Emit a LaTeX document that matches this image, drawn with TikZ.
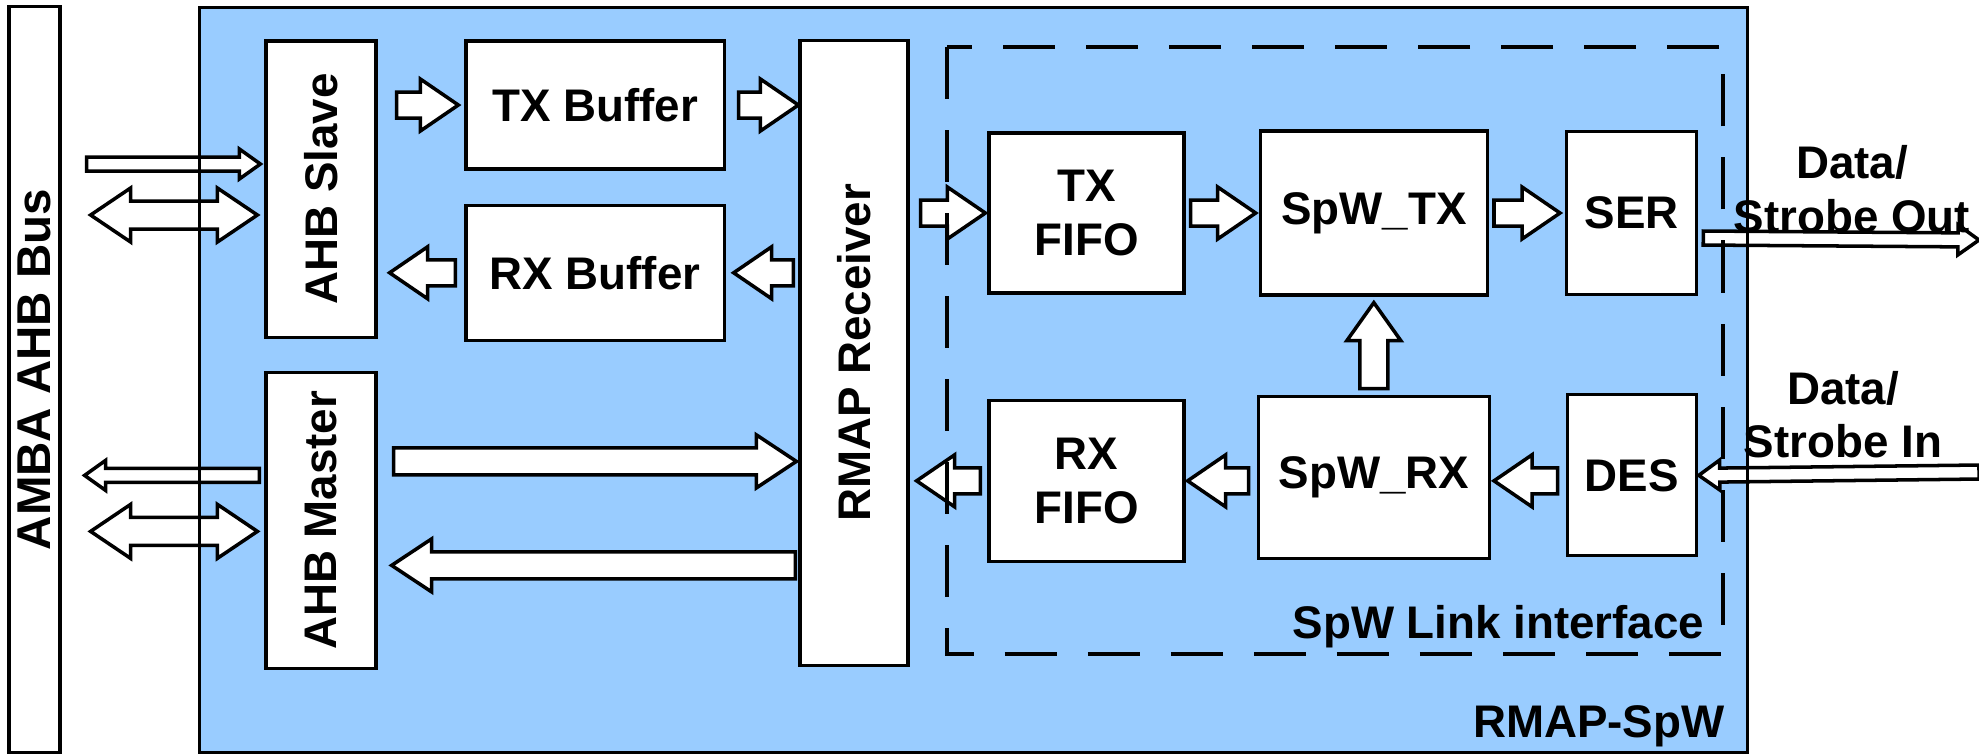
\documentclass[tikz,border=0pt]{standalone}
\usepackage{fontspec}
\setmainfont{Liberation Sans}
\usepackage{graphicx}
\usetikzlibrary{calc, positioning}

\definecolor{spwblue}{RGB}{153,204,255}

% hollow block arrow: from, to, shaft half width, head half width, head length
\newcommand{\blockarr}[5]{%
    \coordinate (ba) at (#1);
    \coordinate (bb) at (#2);
    \coordinate (hb) at ($(bb)!#5!(ba)$);
    \draw [blockarrow] ($(ba)!#3!90:(bb)$) -- ($(hb)!#3!90:(bb)$) -- ($(hb)!#4!90:(bb)$) -- (bb)
        -- ($(hb)!#4!-90:(bb)$) -- ($(hb)!#3!-90:(bb)$) -- ($(ba)!#3!-90:(bb)$) -- cycle;
}
\newcommand{\fatarr}[2]{\blockarr{#1}{#2}{0.13cm}{0.26cm}{0.38cm}}
\newcommand{\longarr}[2]{\blockarr{#1}{#2}{0.135cm}{0.265cm}{0.40cm}}
\newcommand{\thinarr}[2]{\blockarr{#1}{#2}{0.07cm}{0.15cm}{0.21cm}}
% two-headed block arrow
\newcommand{\twowayarr}[2]{%
    \coordinate (ba) at (#1);
    \coordinate (bb) at (#2);
    \coordinate (ha) at ($(ba)!0.40cm!(bb)$);
    \coordinate (hb) at ($(bb)!0.40cm!(ba)$);
    \draw [blockarrow] (ba) -- ($(ha)!0.27cm!90:(bb)$) -- ($(ha)!0.14cm!90:(bb)$) -- ($(hb)!0.14cm!90:(bb)$)
        -- ($(hb)!0.27cm!90:(bb)$) -- (bb) -- ($(hb)!0.27cm!-90:(bb)$) -- ($(hb)!0.14cm!-90:(bb)$)
        -- ($(ha)!0.14cm!-90:(bb)$) -- ($(ha)!0.27cm!-90:(bb)$) -- cycle;
}

\begin{document}
\begin{tikzpicture}[
    x=0.01cm, y=-0.01cm,
    font=\fontsize{13pt}{15.2pt}\selectfont\bfseries,
    block/.style={rectangle, draw=black, line width=0.9pt, fill=white, inner sep=0pt, align=center},
    blockarrow/.style={draw=black, fill=white, line width=1pt, line join=miter},
    linkbox/.style={draw=black, line width=1pt, dash pattern=on 0.52cm off 0.31cm},
]
    \useasboundingbox (0,0) rectangle (1979,753);

    % Background blocks
    \node (rmapspw) [rectangle, fill=spwblue, inner sep=0pt, minimum width=15.45cm, minimum height=7.44cm] at (973.5,380) {};
    \node (amba) [block, minimum width=0.51cm, minimum height=7.45cm] at (34.5,379.5) {\rotatebox{90}{\fontsize{13.5pt}{16pt}\selectfont\hspace{0.2cm}AMBA AHB Bus}};
    \node (link) [rectangle, inner sep=0pt, minimum width=7.74cm, minimum height=6.05cm] at (1335,350.5) {};

    % AHB side
    \node (ahbslave) [block, minimum width=1.10cm, minimum height=2.96cm] at (321,189) {\rotatebox{90}{AHB Slave}};
    \node (ahbmaster) [block, minimum width=1.10cm, minimum height=2.96cm, below=0.32cm of ahbslave] {\rotatebox{90}{AHB Master}};
    \node (txbuf) [block, minimum width=2.58cm, minimum height=1.28cm] at (595,105) {TX Buffer};
    \node (rxbuf) [block, minimum width=2.58cm, minimum height=1.35cm, below=0.33cm of txbuf] {RX Buffer};
    \node (rmaprx) [block, minimum width=1.08cm, minimum height=6.24cm] at (854,353) {\rotatebox{90}{RMAP Receiver}};

    % SpW link
    \node (txfifo) [block, minimum width=1.95cm, minimum height=1.60cm] at (1086.5,213) {TX\\FIFO};
    \node (spwtx) [block, minimum width=2.27cm, minimum height=1.64cm, right=0.73cm of txfifo] {SpW\_TX};
    \node (ser) [block, minimum width=1.30cm, minimum height=1.63cm, right=0.76cm of spwtx] {SER};
    \node (rxfifo) [block, minimum width=1.95cm, minimum height=1.61cm, below=1.04cm of txfifo] {RX\\FIFO};
    \node (spwrx) [block, minimum width=2.31cm, minimum height=1.62cm, below=0.98cm of spwtx] {SpW\_RX};
    \node (des) [block, minimum width=1.29cm, minimum height=1.61cm, below=0.97cm of ser] {DES};

    \coordinate (outend) at (1979,240);
    \coordinate (inend) at (1979,472);

    % Bus connections
    \thinarr{$(amba.east |- ahbslave.west)+(25,-25)$}{$(ahbslave.west)+(-4,-25)$}
    \twowayarr{$(amba.east |- ahbslave.west)+(29,26)$}{$(ahbslave.west)+(-7,26)$}
    \thinarr{$(ahbmaster.west)+(-5,-45)$}{$(amba.east |- ahbmaster.west)+(23,-45)$}
    \twowayarr{$(amba.east |- ahbmaster.west)+(29,11)$}{$(ahbmaster.west)+(-7,11)$}

    % Buffers
    \fatarr{$(ahbslave.east |- txbuf.west)+(19,0)$}{$(txbuf.west)+(-6,0)$}
    \fatarr{$(txbuf.east)+(13,0)$}{rmaprx.west |- txbuf.east}
    \fatarr{$(rmaprx.west |- rxbuf.east)+(-5,0)$}{$(rxbuf.east)+(8,0)$}
    \fatarr{$(rxbuf.west)+(-9,0)$}{$(ahbslave.east |- rxbuf.west)+(12,0)$}
    \longarr{$(ahbmaster.east)+(16,-59)$}{$(rmaprx.west |- ahbmaster.east)+(-2,-59)$}
    \longarr{$(rmaprx.west |- ahbmaster.east)+(-3,45)$}{$(ahbmaster.east)+(14,45)$}

    % Link path
    \fatarr{$(rmaprx.east |- txfifo.west)+(11,0)$}{$(txfifo.west)+(-2,0)$}
    \fatarr{$(txfifo.east)+(5,0)$}{$(spwtx.west)+(-3,0)$}
    \fatarr{$(spwtx.east)+(5,0)$}{$(ser.west)+(-5,0)$}
    \blockarr{$(spwrx.north)+(0,-6)$}{$(spwtx.south)+(0,6)$}{0.14cm}{0.27cm}{0.38cm}
    \fatarr{$(des.west |- rxfifo.east)+(-8,0)$}{$(spwrx.east |- rxfifo.east)+(3,0)$}
    \fatarr{$(spwrx.west |- rxfifo.east)+(-8,0)$}{$(rxfifo.east)+(2,0)$}
    \fatarr{$(rxfifo.west)+(-7,0)$}{$(rmaprx.east |- rxfifo.west)+(7,0)$}
    \thinarr{$(ser.east)+(5,25)$}{outend}
    \thinarr{inend}{$(des.east)+(1,0)$}

    % Frames on top
    \draw [line width=0.9pt] (rmapspw.north west) rectangle (rmapspw.south east);
    \draw [linkbox] (link.north west) rectangle (link.south east);

    % Labels
    \node (linklabel) [anchor=base east, inner sep=0pt] at ($(link.south east)+(-18,-15)$) {SpW Link interface};
    \node (rmaplabel) [anchor=base east, inner sep=0pt] at ($(rmapspw.south east)+(-22,-15)$) {RMAP-SpW};
    \node (outlabel) [align=center] at (1852,189) {Data/\\Strobe Out};
    \node (inlabel) [align=center] at (1843,414.5) {Data/\\Strobe In};

\end{tikzpicture}
\end{document}
